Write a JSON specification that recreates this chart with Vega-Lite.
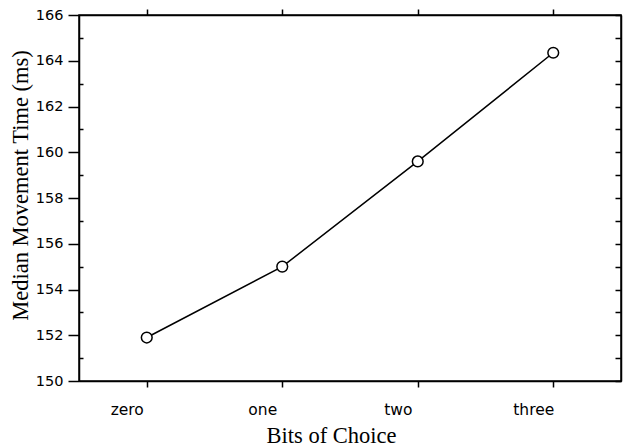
{
  "$schema": "https://vega.github.io/schema/vega-lite/v6.json",
  "width": 542,
  "height": 366,
  "autosize": "none",
  "padding": {"left": 79, "top": 15, "right": 4, "bottom": 67},
  "background": "white",
  "config": {
    "view": {"stroke": "black", "strokeWidth": 1.5},
    "axis": {
      "grid": false,
      "domainColor": "black",
      "domainWidth": 1.5,
      "tickColor": "black",
      "tickWidth": 1.5,
      "labelColor": "black",
      "labelFont": "DejaVu Sans",
      "labelFontSize": 14.5,
      "titleFont": "Liberation Serif",
      "titleFontSize": 22.5,
      "titleFontWeight": "normal",
      "titleColor": "black"
    }
  },
  "data": {
    "values": [
      {"bits": "zero", "time": 151.9},
      {"bits": "one", "time": 155.0},
      {"bits": "two", "time": 159.6},
      {"bits": "three", "time": 164.35}
    ]
  },
  "resolve": {"axis": {"x": "independent", "y": "independent"}},
  "layer": [
    {
      "mark": {"type": "line", "color": "black", "strokeWidth": 1.5},
      "encoding": {
        "x": {
          "field": "bits", "type": "ordinal",
          "sort": ["zero", "one", "two", "three"],
          "scale": {"type": "point", "padding": 0.5},
          "axis": {
            "orient": "bottom", "labelAngle": 0, "tickSize": 6, "labelPadding": 15,
            "labelFontSize": 15.5, "labelOffset": -20,
            "title": "Bits of Choice",
            "titleX": 252, "titleY": 61, "titleAlign": "center", "titleBaseline": "alphabetic"
          }
        },
        "y": {
          "field": "time", "type": "quantitative",
          "scale": {"domain": [150, 166], "nice": false, "zero": false},
          "axis": {
            "orient": "left",
            "values": [150,151,152,153,154,155,156,157,158,159,160,161,162,163,164,165,166],
            "labelExpr": "datum.value % 2 === 0 ? datum.label : ''",
            "labelOverlap": false,
            "tickSize": {"condition": {"test": "datum.value % 2 === 1", "value": -4}, "value": 11},
            "labelPadding": 5,
            "title": "Median Movement Time (ms)",
            "titleX": -52, "titleY": 170, "titleAngle": -90, "titleAlign": "center", "titleBaseline": "alphabetic"
          }
        }
      }
    },
    {
      "mark": {"type": "point", "shape": "circle", "size": 115, "filled": true, "fill": "white", "stroke": "black", "strokeWidth": 1.5, "opacity": 1},
      "encoding": {
        "x": {
          "field": "bits", "type": "ordinal",
          "sort": ["zero", "one", "two", "three"],
          "scale": {"type": "point", "padding": 0.5},
          "axis": {"orient": "top", "labels": false, "tickSize": 6, "title": null}
        },
        "y": {
          "field": "time", "type": "quantitative",
          "scale": {"domain": [150, 166], "nice": false, "zero": false},
          "axis": {
            "orient": "right",
            "values": [150,151,152,153,154,155,156,157,158,159,160,161,162,163,164,165,166],
            "labels": false,
            "tickSize": -6,
            "title": null
          }
        }
      }
    }
  ]
}
